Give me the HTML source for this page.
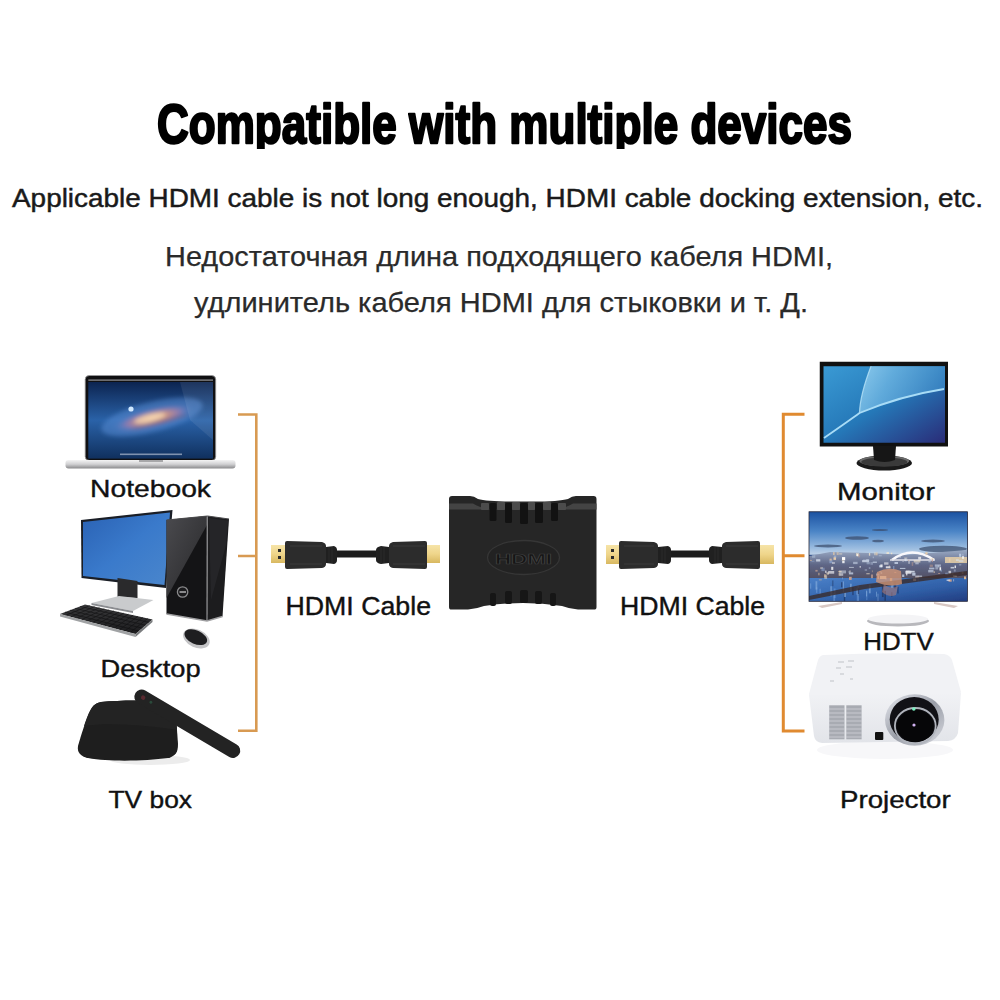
<!DOCTYPE html>
<html><head><meta charset="utf-8">
<style>
html,body{margin:0;padding:0;background:#fff;width:1000px;height:1000px;overflow:hidden;}
svg{display:block;}
text{font-family:"Liberation Sans",sans-serif;}
</style></head>
<body>
<svg width="1000" height="1000" viewBox="0 0 1000 1000">
<defs>
  <filter id="blur1" x="-20%" y="-50%" width="140%" height="200%"><feGaussianBlur stdDeviation="2"/></filter>
  <filter id="blur05" x="-5%" y="-5%" width="110%" height="110%"><feGaussianBlur stdDeviation="0.7"/></filter>
  <radialGradient id="galaxy" cx="0.5" cy="0.5" r="0.5">
    <stop offset="0" stop-color="#f2cfa8"/>
    <stop offset="0.3" stop-color="#d4987c"/>
    <stop offset="0.65" stop-color="#8a7ab0"/>
    <stop offset="1" stop-color="#4a80c8" stop-opacity="0"/>
  </radialGradient>
  <linearGradient id="mbScreen" x1="0" y1="0" x2="0" y2="1">
    <stop offset="0" stop-color="#0c2450"/>
    <stop offset="0.5" stop-color="#2a62a8"/>
    <stop offset="1" stop-color="#10305e"/>
  </linearGradient>
  <linearGradient id="silver" x1="0" y1="0" x2="0" y2="1">
    <stop offset="0" stop-color="#f4f4f4"/>
    <stop offset="0.5" stop-color="#d0d0d2"/>
    <stop offset="1" stop-color="#8a8a8c"/>
  </linearGradient>
  <linearGradient id="dellScreen" x1="0" y1="0" x2="1" y2="1">
    <stop offset="0" stop-color="#2f6fc4"/>
    <stop offset="1" stop-color="#3a78c8"/>
  </linearGradient>
  <linearGradient id="tower" x1="0" y1="0" x2="1" y2="0">
    <stop offset="0" stop-color="#1a1a1a"/>
    <stop offset="0.5" stop-color="#2a2a2c"/>
    <stop offset="1" stop-color="#111"/>
  </linearGradient>
  <linearGradient id="monScreen" x1="0" y1="0" x2="1" y2="1">
    <stop offset="0" stop-color="#3a9ad4"/>
    <stop offset="0.5" stop-color="#2578b8"/>
    <stop offset="1" stop-color="#2a2c78"/>
  </linearGradient>
  <linearGradient id="sky" x1="0" y1="0" x2="0" y2="1">
    <stop offset="0" stop-color="#2a62b0"/>
    <stop offset="0.55" stop-color="#7aa4d4"/>
    <stop offset="0.62" stop-color="#9ab4d0"/>
    <stop offset="0.64" stop-color="#3a3a48"/>
    <stop offset="0.78" stop-color="#6a5a60"/>
    <stop offset="0.82" stop-color="#2a4a80"/>
    <stop offset="1" stop-color="#1e3c78"/>
  </linearGradient>
  <linearGradient id="projTop" x1="0" y1="0" x2="0" y2="1">
    <stop offset="0" stop-color="#f6f7f9"/>
    <stop offset="1" stop-color="#eceef2"/>
  </linearGradient>
  <linearGradient id="projFront" x1="0" y1="0" x2="0" y2="1">
    <stop offset="0" stop-color="#f4f5f8"/>
    <stop offset="1" stop-color="#dfe1e6"/>
  </linearGradient>
  <linearGradient id="gold" x1="0" y1="0" x2="0" y2="1">
    <stop offset="0" stop-color="#f6e4a8"/>
    <stop offset="0.5" stop-color="#efd58a"/>
    <stop offset="1" stop-color="#d8b860"/>
  </linearGradient>
</defs>

<!-- ===== TEXT ===== -->
<clipPath id="titleClip"><rect x="0" y="80" width="1000" height="69"/></clipPath>
<text x="157" y="143" font-size="56" font-weight="bold" fill="#000" stroke="#000" stroke-width="2.4" stroke-linejoin="round" textLength="695" lengthAdjust="spacingAndGlyphs" clip-path="url(#titleClip)">Compatible with multiple devices</text>
<text x="12" y="207" font-size="25" fill="#1a1a1a" stroke="#1a1a1a" stroke-width="0.45" textLength="971" lengthAdjust="spacingAndGlyphs">Applicable HDMI cable is not long enough, HDMI cable docking extension, etc.</text>
<text x="165" y="266" font-size="28" fill="#2a2a2a" stroke="#2a2a2a" stroke-width="0.25" textLength="668" lengthAdjust="spacingAndGlyphs">Недостаточная длина подходящего кабеля HDMI,</text>
<text x="194" y="312" font-size="28" fill="#2a2a2a" stroke="#2a2a2a" stroke-width="0.25" textLength="614" lengthAdjust="spacingAndGlyphs">удлинитель кабеля HDMI для стыковки и т. Д.</text>

<!-- labels -->
<text x="90" y="497" font-size="24.5" fill="#111" stroke="#111" stroke-width="0.4" textLength="121" lengthAdjust="spacingAndGlyphs">Notebook</text>
<text x="100.6" y="677" font-size="24.5" fill="#111" stroke="#111" stroke-width="0.4" textLength="100" lengthAdjust="spacingAndGlyphs">Desktop</text>
<text x="108.5" y="808" font-size="24.5" fill="#111" stroke="#111" stroke-width="0.4" textLength="83.5" lengthAdjust="spacingAndGlyphs">TV box</text>
<text x="285.5" y="615" font-size="25" fill="#111" stroke="#111" stroke-width="0.4" textLength="145.5" lengthAdjust="spacingAndGlyphs">HDMI Cable</text>
<text x="620" y="615" font-size="25" fill="#111" stroke="#111" stroke-width="0.4" textLength="145" lengthAdjust="spacingAndGlyphs">HDMI Cable</text>
<text x="837" y="499.5" font-size="24.5" fill="#111" stroke="#111" stroke-width="0.4" textLength="98" lengthAdjust="spacingAndGlyphs">Monitor</text>
<text x="863.2" y="650" font-size="24.5" fill="#111" stroke="#111" stroke-width="0.4" textLength="70.5" lengthAdjust="spacingAndGlyphs">HDTV</text>
<text x="840" y="807.5" font-size="24.5" fill="#111" stroke="#111" stroke-width="0.4" textLength="110.7" lengthAdjust="spacingAndGlyphs">Projector</text>

<!-- ===== BRACKETS ===== -->
<path d="M238 414.5 H256.3 V730.8 H238 M238 556 H256.3" fill="none" stroke="#d89a52" stroke-width="2.6"/>
<path d="M804.5 414.2 H783.3 V731 H804.5 M804.5 555.7 H783.3" fill="none" stroke="#e08a30" stroke-width="3"/>

<!-- ===== LAPTOP ===== -->
<rect x="85.2" y="375.5" width="130.5" height="85" rx="4" fill="#101012" stroke="#9a9a9c" stroke-width="0.8"/>
<rect x="88.3" y="382" width="124.7" height="76.6" fill="url(#mbScreen)"/>
<g filter="url(#blur1)">
<ellipse cx="152" cy="417" rx="52" ry="15" fill="#5a90d8" opacity="0.5" transform="rotate(-14 152 417)"/>
<ellipse cx="153" cy="418" rx="42" ry="10" fill="url(#galaxy)" transform="rotate(-14 153 418)"/>
<ellipse cx="150" cy="418" rx="16" ry="4" fill="#f8dcb8" opacity="0.7" transform="rotate(-14 150 418)"/>
<ellipse cx="160" cy="422" rx="30" ry="2" fill="#7a5a70" opacity="0.5" transform="rotate(-14 160 422)"/>
</g>
<circle cx="131" cy="409" r="2.6" fill="#cfe8ff"/>
<polygon points="180,382 213,382 213,440 190,420" fill="#ffffff" opacity="0.08"/>
<rect x="120" y="453.5" width="62" height="1.6" fill="#c8d0e0" opacity="0.6"/>
<rect x="88.3" y="379.5" width="124.7" height="1.2" fill="#b4b4b8" opacity="0.8"/>
<rect x="65.5" y="460" width="170" height="8.5" rx="3" fill="url(#silver)"/>
<rect x="139" y="460" width="24" height="2" fill="#a8a8aa"/>

<!-- ===== DESKTOP ===== -->
<polygon points="81,520 172.5,510 166,588 81.5,578" fill="#1a1e26"/>
<linearGradient id="dellScr2" x1="0" y1="0" x2="1" y2="1">
  <stop offset="0" stop-color="#2a62b4"/>
  <stop offset="0.5" stop-color="#3a7acb"/>
  <stop offset="1" stop-color="#4a86cc"/>
</linearGradient>
<polygon points="83,522 170,512.5 164.5,585 83,576" fill="url(#dellScr2)"/>
<polygon points="117.5,578 137.5,581 137.5,598 117.5,597" fill="#2a2a2c"/>
<polygon points="91.5,603 119,596 153.5,600 133,611" fill="#c9cbcd"/>
<polygon points="91.5,603 133,611 133,613 91.5,605" fill="#8a8c90"/>
<linearGradient id="tower2" x1="0" y1="0" x2="1" y2="1">
  <stop offset="0" stop-color="#2e2e30"/>
  <stop offset="0.45" stop-color="#1a1a1c"/>
  <stop offset="1" stop-color="#0e0e10"/>
</linearGradient>
<polygon points="166.5,520 207.5,516 207,621 166.5,614" fill="#141416"/>
<linearGradient id="gloss" x1="0" y1="0" x2="1" y2="1">
  <stop offset="0" stop-color="#4a4a4e"/>
  <stop offset="1" stop-color="#262628"/>
</linearGradient>
<polygon points="166.5,520 207.5,516 207.5,524 166.5,598" fill="url(#gloss)"/>
<polygon points="207.5,516 229,519 222.5,616.5 207,621" fill="#1c1c1e"/>
<polygon points="209,518 228,520.5 226,545 211,600" fill="#2a2a2c" opacity="0.7"/>
<line x1="207.3" y1="516" x2="207" y2="621" stroke="#8a8a8c" stroke-width="1.3"/>
<polyline points="166.5,520 207.5,516 229,519" fill="none" stroke="#4a4a4c" stroke-width="1"/>
<polyline points="166.5,614 207,621 222.5,616.5" fill="none" stroke="#a0a0a2" stroke-width="1.6"/>
<circle cx="182.6" cy="592" r="5.2" fill="#1a1a1c" stroke="#8a8a8c" stroke-width="1.3"/>
<rect x="179.5" y="591" width="6.5" height="2" fill="#8a8a8c"/>
<ellipse cx="196.4" cy="638.5" rx="14" ry="9" transform="rotate(24 196.4 638.5)" fill="#c4c4c6"/>
<ellipse cx="195.8" cy="637.2" rx="12" ry="6.8" transform="rotate(24 195.8 637.2)" fill="#1e1e20"/>
<linearGradient id="kb" x1="0" y1="0" x2="0" y2="1">
  <stop offset="0" stop-color="#3a3a3c"/>
  <stop offset="1" stop-color="#1c1c1e"/>
</linearGradient>
<polygon points="60,614 85,604.5 152.5,619.5 135.5,634" fill="url(#kb)"/>
<path d="M65.0 612.1 L138.9 631.1 M70.0 610.2 L142.3 628.2 M75.0 608.3 L145.7 625.3 M80.0 606.4 L149.1 622.4 M65.4 615.4 L89.8 605.6 M70.8 616.9 L94.6 606.6 M76.2 618.3 L99.5 607.7 M81.6 619.7 L104.3 608.8 M87.0 621.1 L109.1 609.9 M92.4 622.6 L113.9 610.9 M97.8 624.0 L118.8 612.0 M103.1 625.4 L123.6 613.1 M108.5 626.9 L128.4 614.1 M113.9 628.3 L133.2 615.2 M119.3 629.7 L138.0 616.3 M124.7 631.1 L142.9 617.4 M130.1 632.6 L147.7 618.4" stroke="#0e0e10" stroke-width="0.7" opacity="0.8"/>
<polygon points="60,614 135.5,634 135.5,637 60,616.5" fill="#a0a2a4"/>
<polygon points="135.5,634 152.5,619.5 152.5,622 135.5,637" fill="#7a7c7e"/>


<!-- ===== TV BOX ===== -->
<ellipse cx="150" cy="760" rx="40" ry="5" fill="#ececec"/>
<path d="M101 702 C120 700 145 700 160 701.5 L176 716 L178 744 C178 752 176 756 168 758 C145 761 110 762 88 758 C80 756 77 752 78 746 C81 735 86 720 90 711 C93 705 96 703 101 702 Z" fill="#1e1e1e"/>
<path d="M101 702 C120 700 145 700 160 701.5 L176 716 L177 730 C150 726 110 722 84 726 C86 720 88 714 90 711 C93 705 96 703 101 702 Z" fill="#232323"/>
<g transform="rotate(30.5 187.3 723.8)">
  <rect x="127" y="716.5" width="120.5" height="14.5" rx="7.2" fill="#232323"/>
  <circle cx="136" cy="723.7" r="2.2" fill="#5a2a30"/>
  <circle cx="145" cy="723.7" r="1.5" fill="#2a4a3a"/>
</g>
<!-- ===== HDMI CABLES ===== -->
<g id="cableL">
  <rect x="271" y="545" width="15" height="18" fill="url(#gold)"/>
  <rect x="278" y="549" width="3" height="3" fill="#2a2a2a"/>
  <rect x="278" y="556" width="3" height="3" fill="#2a2a2a"/>
  <path d="M285 543 Q285 541 287 541 L322 542 Q326 543 326 546 L326 564 Q326 567 322 568 L287 569 Q285 569 285 567 Z" fill="#2c2c2c"/>
  <path d="M290 546 H322 M290 564 H322" stroke="#3a3a3a" stroke-width="1"/>
  <path d="M326 547 L334 546 Q337 547 337 550 L337 560 Q337 563 334 564 L326 563 Z" fill="#202020"/>
  <path d="M329 547 V563 M332 547 V563" stroke="#2e2e2e" stroke-width="0.8"/>
  <rect x="337" y="550.5" width="39" height="7" fill="#1c1c1c"/>
  <path d="M389 547 L381 546 Q376 547 376 550 L376 560 Q376 563 381 564 L389 563 Z" fill="#202020"/>
  <path d="M384 547 V563 M381 547 V563" stroke="#2e2e2e" stroke-width="0.8"/>
  <path d="M389 546 Q389 543 393 542 L425 541 Q427 541 427 543 L427 567 Q427 569 425 569 L393 568 Q389 567 389 564 Z" fill="#2c2c2c"/>
  <path d="M393 546 H425 M393 564 H425" stroke="#3a3a3a" stroke-width="1"/>
  <rect x="427" y="545" width="13" height="18" fill="url(#gold)"/>
</g>
<g id="cableR">
  <rect x="606" y="545" width="14" height="19" fill="url(#gold)"/>
  <rect x="611" y="549" width="3" height="3" fill="#2a2a2a"/>
  <rect x="611" y="556" width="3" height="3" fill="#2a2a2a"/>
  <path d="M619 543 Q619 541 621 541 L654 542 Q658 543 658 546 L658 564 Q658 567 654 568 L621 569 Q619 569 619 567 Z" fill="#2c2c2c"/>
  <path d="M624 546 H654 M624 564 H654" stroke="#3a3a3a" stroke-width="1"/>
  <path d="M658 547 L668 546 Q671 547 671 550 L671 560 Q671 563 668 564 L658 563 Z" fill="#202020"/>
  <path d="M662 547 V563 M665 547 V563" stroke="#2e2e2e" stroke-width="0.8"/>
  <rect x="671" y="550.5" width="38" height="7" fill="#1c1c1c"/>
  <path d="M722 547 L712 546 Q709 547 709 550 L709 560 Q709 563 712 564 L722 563 Z" fill="#202020"/>
  <path d="M715 547 V563 M718 547 V563" stroke="#2e2e2e" stroke-width="0.8"/>
  <path d="M722 546 Q722 543 726 542 L758 541 Q760 541 760 543 L760 567 Q760 569 758 569 L726 568 Q722 567 722 564 Z" fill="#2c2c2c"/>
  <path d="M726 546 H758 M726 564 H758" stroke="#3a3a3a" stroke-width="1"/>
  <rect x="760" y="545" width="14" height="19" fill="url(#gold)"/>
</g>

<!-- ===== ADAPTER ===== -->
<path d="M449 499 Q449 496 452 496 L470 496 Q474 496 478 499 Q488 502 523 501.5 Q558 502 568 499 Q572 496 576 496 L593.5 496 Q596.5 496 596.5 499 L596.5 607 Q596.5 609.6 594 609.6 L578 609.6 Q570 609 562 606 Q523 600 484 606 Q476 609 468 609.6 L451.5 609.6 Q449 609.6 449 607 Z" fill="#262626"/>
<path d="M449 503.5 L473 503.5 Q479 507 488 509 L558 509 Q567 507 573 503.5 L596.5 503.5 L596.5 509.5 L449 509.5 Z" fill="#444"/>
<g fill="#4c4c4c">
  <rect x="481" y="503" width="8" height="7" rx="1"/>
  <rect x="497" y="502" width="8" height="8" rx="1"/>
  <rect x="512" y="502" width="8" height="8" rx="1"/>
  <rect x="528" y="502" width="7" height="8" rx="1"/>
  <rect x="543" y="502" width="8" height="8" rx="1"/>
  <rect x="558" y="503" width="8" height="7" rx="1"/>
</g>
<g fill="#121212">
  <rect x="489.5" y="503" width="7" height="18" rx="1.5"/>
  <rect x="505" y="503" width="7" height="20" rx="1.5"/>
  <rect x="520" y="503" width="8" height="21" rx="1.5"/>
  <rect x="535" y="503" width="8" height="20" rx="1.5"/>
  <rect x="551" y="503" width="7" height="18" rx="1.5"/>
</g>
<g fill="#161616">
  <rect x="490" y="593" width="6" height="13" rx="2"/>
  <rect x="505" y="591" width="7" height="13" rx="2"/>
  <rect x="520" y="590" width="8" height="13" rx="2"/>
  <rect x="535" y="591" width="7" height="13" rx="2"/>
  <rect x="550" y="593" width="6" height="13" rx="2"/>
</g>
<ellipse cx="523.5" cy="557.5" rx="36" ry="17" fill="#222" stroke="#363636" stroke-width="1.3"/>
<text x="495" y="563.5" font-size="15" font-weight="bold" fill="#141414" stroke="#3e3e3e" stroke-width="0.7" textLength="57" lengthAdjust="spacingAndGlyphs">HDMI</text>

<!-- ===== MONITOR ===== -->
<rect x="819.75" y="361.75" width="128.25" height="84.75" fill="#111"/>
<rect x="823.5" y="366.25" width="121.5" height="76.5" fill="url(#monScreen)"/>
<linearGradient id="monLight" x1="0" y1="0" x2="1" y2="0.3">
  <stop offset="0" stop-color="#9ad4f2"/>
  <stop offset="0.4" stop-color="#6ab2e0"/>
  <stop offset="1" stop-color="#3a86c4"/>
</linearGradient>
<path d="M871 366.25 Q860 395 859.5 413 Q900 396 945 389.5 L945 366.25 Z" fill="url(#monLight)" opacity="0.85"/>
<path d="M871 366.25 Q860 395 859.5 413" fill="none" stroke="#b8e4f8" stroke-width="1.2" opacity="0.8"/>
<path d="M824 438 Q850 420 859.5 413 Q900 396 944 389" fill="none" stroke="#a8dcf6" stroke-width="1.8"/>
<ellipse cx="884.25" cy="463" rx="27.75" ry="7.5" fill="#1a1a1a"/>
<ellipse cx="884.25" cy="461" rx="25" ry="5.2" fill="#6a6a6a"/>
<ellipse cx="884.25" cy="462" rx="23" ry="4.5" fill="#3a3a3a"/>
<path d="M873 446 L896 446 L895 460 Q884.5 464 874 460 Z" fill="#161616"/>

<!-- ===== HDTV ===== -->
<linearGradient id="tvSky" x1="0" y1="0" x2="0" y2="1">
  <stop offset="0" stop-color="#1b52a2"/>
  <stop offset="0.45" stop-color="#4a84c6"/>
  <stop offset="0.85" stop-color="#9cbde0"/>
  <stop offset="1" stop-color="#c0d2e6"/>
</linearGradient>
<linearGradient id="tvWater" x1="0" y1="0" x2="1" y2="1">
  <stop offset="0" stop-color="#4a80c8"/>
  <stop offset="0.6" stop-color="#3060a8"/>
  <stop offset="1" stop-color="#223c80"/>
</linearGradient>
<linearGradient id="tvCity" x1="0" y1="0" x2="0" y2="1">
  <stop offset="0" stop-color="#9aaac4"/>
  <stop offset="0.45" stop-color="#5e6686"/>
  <stop offset="1" stop-color="#4e4858"/>
</linearGradient>
<rect x="809" y="511.8" width="158.4" height="89.5" fill="#1a3e80"/>
<rect x="809" y="511.8" width="158.4" height="43" fill="url(#tvSky)"/>
<clipPath id="tvClip"><rect x="809" y="511.8" width="158.4" height="89.5"/></clipPath>
<g clip-path="url(#tvClip)"><g filter="url(#blur05)">
<g fill="#3a4a6a" opacity="0.7">
  <ellipse cx="828" cy="546" rx="14" ry="1.5"/>
  <ellipse cx="857" cy="538" rx="12" ry="1.8"/>
  <ellipse cx="878" cy="541" rx="6" ry="1.3"/>
  <ellipse cx="943" cy="549" rx="24" ry="3.2"/>
  <ellipse cx="933" cy="541" rx="12" ry="1.5"/>
  <ellipse cx="880" cy="530" rx="8" ry="1"/>
</g>
<path d="M809 556 L830 552 L870 553 L905 555 L967 550 L967 578 L809 583 Z" fill="url(#tvCity)"/>
<rect x="809" y="578" width="158.4" height="23.3" fill="url(#tvWater)"/>
<rect x="868.9" y="584.7" width="1.8" height="8.6" fill="#8ab0e0" opacity="0.6"/>
<rect x="815.9" y="587.2" width="1.5" height="5.7" fill="#6a9ad8" opacity="0.6"/>
<rect x="877.6" y="593.7" width="0.8" height="8.9" fill="#8ab0e0" opacity="0.6"/>
<rect x="830.3" y="586.2" width="1.6" height="10.1" fill="#8ab0e0" opacity="0.6"/>
<rect x="842.8" y="581.4" width="1.2" height="11.2" fill="#8ab0e0" opacity="0.6"/>
<rect x="857.6" y="585.8" width="1.6" height="10.8" fill="#6a9ad8" opacity="0.6"/>
<rect x="866.4" y="591.3" width="0.9" height="8.8" fill="#6a9ad8" opacity="0.6"/>
<rect x="843.8" y="593.1" width="1.4" height="11.8" fill="#1a2a50" opacity="0.6"/>
<rect x="857.8" y="588.4" width="1.4" height="8.0" fill="#1a2a50" opacity="0.6"/>
<rect x="856.4" y="588.4" width="1.3" height="6.3" fill="#8ab0e0" opacity="0.6"/>
<rect x="833.3" y="593.0" width="1.8" height="10.0" fill="#6a9ad8" opacity="0.6"/>
<rect x="810.3" y="583.4" width="0.9" height="5.3" fill="#8ab0e0" opacity="0.6"/>
<rect x="844.1" y="592.6" width="1.9" height="4.4" fill="#8ab0e0" opacity="0.6"/>
<rect x="894.0" y="581.0" width="2.2" height="7.4" fill="#1a2a50" opacity="0.6"/>
<rect x="831.6" y="590.6" width="0.9" height="4.8" fill="#8ab0e0" opacity="0.6"/>
<rect x="890.9" y="582.0" width="2.2" height="6.0" fill="#8ab0e0" opacity="0.6"/>
<rect x="819.4" y="588.7" width="1.5" height="5.6" fill="#6a9ad8" opacity="0.6"/>
<rect x="841.1" y="582.2" width="1.3" height="5.1" fill="#1a2a50" opacity="0.6"/>
<rect x="850.0" y="583.7" width="1.7" height="7.4" fill="#8ab0e0" opacity="0.6"/>
<rect x="856.8" y="594.0" width="2.2" height="9.9" fill="#6a9ad8" opacity="0.6"/>
<rect x="852.3" y="587.0" width="1.3" height="8.1" fill="#1a2a50" opacity="0.6"/>
<rect x="833.7" y="588.5" width="1.9" height="9.6" fill="#6a9ad8" opacity="0.6"/>
<rect x="866.0" y="590.5" width="1.1" height="6.0" fill="#8ab0e0" opacity="0.6"/>
<rect x="891.4" y="592.3" width="0.9" height="4.5" fill="#1a2a50" opacity="0.6"/>
<rect x="832.4" y="580.4" width="0.9" height="5.8" fill="#1a2a50" opacity="0.6"/>
<rect x="815.5" y="581.2" width="1.8" height="8.4" fill="#8ab0e0" opacity="0.6"/>
<rect x="897.3" y="586.8" width="1.3" height="6.7" fill="#1a2a50" opacity="0.6"/>
<rect x="876.0" y="591.7" width="0.9" height="5.0" fill="#8ab0e0" opacity="0.6"/>
<rect x="884.4" y="590.8" width="1.5" height="10.0" fill="#1a2a50" opacity="0.6"/>
<rect x="881.9" y="585.2" width="1.8" height="11.9" fill="#1a2a50" opacity="0.6"/>
<path d="M892 560 Q912 545 934 560" fill="none" stroke="#f8f8fc" stroke-width="2.6"/>
<path d="M890 560 L935 560" stroke="#e0e0e8" stroke-width="1.5"/>
<rect x="945" y="557" width="22" height="6" fill="#e8d0a8" opacity="0.85"/>
<rect x="879.1" y="565.2" width="3.1" height="2.2" fill="#b8c8e0" opacity="0.91"/>
<rect x="838.4" y="573.1" width="2.0" height="2.6" fill="#e8cca8" opacity="0.46"/>
<rect x="856.0" y="553.2" width="2.8" height="2.9" fill="#f4e6cc" opacity="0.76"/>
<rect x="870.4" y="562.0" width="2.6" height="2.8" fill="#b8c8e0" opacity="0.41"/>
<rect x="890.9" y="552.7" width="1.3" height="1.5" fill="#f4e6cc" opacity="0.87"/>
<rect x="859.6" y="566.1" width="1.3" height="1.5" fill="#ffffff" opacity="0.70"/>
<rect x="911.7" y="562.1" width="1.5" height="3.8" fill="#c8a090" opacity="0.45"/>
<rect x="848.4" y="571.5" width="2.1" height="0.9" fill="#b8c8e0" opacity="0.86"/>
<rect x="871.1" y="574.5" width="1.8" height="3.7" fill="#c8a090" opacity="0.81"/>
<rect x="842.1" y="577.4" width="0.9" height="1.9" fill="#8aa0c8" opacity="0.64"/>
<rect x="820.3" y="567.3" width="2.7" height="1.6" fill="#f4e6cc" opacity="0.59"/>
<rect x="811.3" y="560.8" width="3.1" height="1.2" fill="#8aa0c8" opacity="0.46"/>
<rect x="818.3" y="572.8" width="1.2" height="2.5" fill="#d8b898" opacity="0.71"/>
<rect x="961.7" y="571.9" width="1.8" height="2.0" fill="#d8b898" opacity="0.65"/>
<rect x="842.0" y="557.1" width="3.2" height="3.2" fill="#ffffff" opacity="1.00"/>
<rect x="812.0" y="555.2" width="3.3" height="2.6" fill="#b8c8e0" opacity="0.46"/>
<rect x="962.3" y="555.8" width="1.4" height="3.1" fill="#ffffff" opacity="0.90"/>
<rect x="868.9" y="553.0" width="1.3" height="2.7" fill="#f4e6cc" opacity="0.76"/>
<rect x="866.6" y="562.0" width="3.2" height="2.3" fill="#b8c8e0" opacity="0.48"/>
<rect x="868.8" y="567.3" width="1.6" height="1.5" fill="#b8c8e0" opacity="0.55"/>
<rect x="838.4" y="570.9" width="3.2" height="1.4" fill="#d8b898" opacity="0.93"/>
<rect x="902.5" y="561.1" width="1.1" height="0.9" fill="#ffffff" opacity="0.54"/>
<rect x="918.2" y="556.8" width="2.9" height="2.6" fill="#ffffff" opacity="0.71"/>
<rect x="953.0" y="579.2" width="1.1" height="2.2" fill="#8aa0c8" opacity="0.91"/>
<rect x="904.2" y="557.4" width="3.1" height="1.4" fill="#f4e6cc" opacity="0.44"/>
<rect x="872.8" y="556.6" width="0.9" height="1.6" fill="#b8c8e0" opacity="0.74"/>
<rect x="829.4" y="559.5" width="3.0" height="3.7" fill="#8aa0c8" opacity="0.84"/>
<rect x="889.9" y="578.1" width="2.3" height="3.6" fill="#d8b898" opacity="0.95"/>
<rect x="917.7" y="578.7" width="0.9" height="2.7" fill="#d8b898" opacity="0.44"/>
<rect x="857.2" y="554.1" width="1.0" height="2.2" fill="#ffffff" opacity="0.84"/>
<rect x="948.5" y="570.8" width="2.6" height="3.2" fill="#ffffff" opacity="0.61"/>
<rect x="915.2" y="576.4" width="3.0" height="2.1" fill="#c8a090" opacity="0.42"/>
<rect x="886.5" y="552.1" width="2.5" height="1.9" fill="#f4e6cc" opacity="0.77"/>
<rect x="821.4" y="567.7" width="3.3" height="3.4" fill="#8aa0c8" opacity="0.60"/>
<rect x="953.8" y="569.4" width="1.9" height="2.2" fill="#b8c8e0" opacity="0.45"/>
<rect x="925.3" y="552.3" width="2.3" height="2.2" fill="#e8cca8" opacity="0.97"/>
<rect x="826.5" y="572.3" width="2.5" height="2.3" fill="#f4e6cc" opacity="0.62"/>
<rect x="831.2" y="566.8" width="2.1" height="3.1" fill="#ffffff" opacity="0.80"/>
<rect x="877.5" y="576.1" width="1.6" height="2.8" fill="#e8cca8" opacity="0.78"/>
<rect x="933.6" y="571.4" width="1.3" height="1.4" fill="#e8cca8" opacity="0.75"/>
<rect x="858.1" y="554.1" width="2.0" height="3.3" fill="#c8a090" opacity="0.42"/>
<rect x="818.9" y="579.3" width="2.9" height="1.1" fill="#d8b898" opacity="0.57"/>
<rect x="842.2" y="560.9" width="2.4" height="2.3" fill="#ffffff" opacity="0.83"/>
<rect x="939.5" y="567.2" width="1.6" height="3.3" fill="#ffffff" opacity="0.92"/>
<rect x="815.4" y="569.9" width="2.2" height="1.7" fill="#c8a090" opacity="0.74"/>
<rect x="908.4" y="560.7" width="1.3" height="3.1" fill="#ffffff" opacity="0.54"/>
<rect x="830.8" y="552.5" width="2.4" height="2.1" fill="#8aa0c8" opacity="0.72"/>
<rect x="908.2" y="559.7" width="1.0" height="1.4" fill="#c8a090" opacity="0.69"/>
<rect x="836.7" y="552.1" width="2.0" height="2.9" fill="#e8cca8" opacity="0.54"/>
<rect x="929.7" y="564.6" width="3.2" height="2.3" fill="#c8a090" opacity="0.50"/>
<rect x="940.6" y="569.6" width="1.4" height="2.0" fill="#8aa0c8" opacity="0.63"/>
<rect x="878.8" y="555.4" width="3.0" height="0.8" fill="#b8c8e0" opacity="0.74"/>
<rect x="945.3" y="572.8" width="3.2" height="2.2" fill="#8aa0c8" opacity="0.99"/>
<rect x="824.3" y="575.2" width="2.8" height="3.6" fill="#f4e6cc" opacity="0.53"/>
<rect x="948.5" y="579.3" width="3.2" height="2.4" fill="#c8a090" opacity="0.96"/>
<rect x="849.6" y="570.2" width="0.8" height="2.3" fill="#f4e6cc" opacity="0.66"/>
<rect x="894.3" y="571.9" width="2.0" height="0.9" fill="#c8a090" opacity="0.92"/>
<rect x="875.5" y="552.4" width="2.1" height="2.9" fill="#e8cca8" opacity="0.68"/>
<rect x="964.0" y="576.4" width="2.1" height="2.8" fill="#d8b898" opacity="0.97"/>
<rect x="885.4" y="578.2" width="1.0" height="1.5" fill="#b8c8e0" opacity="0.74"/>
<rect x="937.8" y="565.2" width="1.2" height="2.3" fill="#b8c8e0" opacity="0.55"/>
<rect x="913.1" y="578.4" width="3.0" height="2.6" fill="#ffffff" opacity="0.91"/>
<rect x="959.1" y="564.1" width="2.2" height="1.4" fill="#b8c8e0" opacity="0.47"/>
<rect x="809.8" y="559.9" width="2.1" height="0.9" fill="#d8b898" opacity="0.73"/>
<rect x="962.4" y="553.8" width="1.0" height="1.3" fill="#b8c8e0" opacity="0.68"/>
<rect x="951.7" y="573.0" width="1.8" height="1.5" fill="#d8b898" opacity="0.48"/>
<rect x="876.2" y="573.5" width="3.1" height="2.2" fill="#ffffff" opacity="0.47"/>
<rect x="874.0" y="552.3" width="1.5" height="2.9" fill="#f4e6cc" opacity="0.42"/>
<rect x="833.1" y="552.1" width="1.5" height="3.0" fill="#e8cca8" opacity="0.77"/>
<rect x="825.3" y="570.6" width="1.1" height="2.3" fill="#ffffff" opacity="0.83"/>
<rect x="917.7" y="575.7" width="0.9" height="2.7" fill="#c8a090" opacity="0.72"/>
<rect x="833.8" y="555.6" width="2.4" height="2.7" fill="#b8c8e0" opacity="0.53"/>
<rect x="893.2" y="566.0" width="1.1" height="3.5" fill="#8aa0c8" opacity="0.89"/>
<rect x="948.9" y="558.3" width="1.6" height="3.6" fill="#e8cca8" opacity="0.87"/>
<rect x="839.2" y="553.3" width="3.0" height="1.2" fill="#f4e6cc" opacity="0.56"/>
<rect x="824.0" y="574.1" width="1.9" height="3.2" fill="#e8cca8" opacity="0.52"/>
<rect x="906.3" y="572.9" width="1.0" height="2.5" fill="#ffffff" opacity="0.95"/>
<rect x="959.1" y="553.7" width="2.1" height="3.1" fill="#b8c8e0" opacity="1.00"/>
<rect x="938.1" y="573.0" width="2.0" height="0.9" fill="#c8a090" opacity="0.73"/>
<rect x="888.8" y="565.4" width="1.2" height="1.4" fill="#e8cca8" opacity="0.50"/>
<rect x="833.5" y="557.4" width="2.5" height="2.5" fill="#e8cca8" opacity="0.97"/>
<rect x="880.6" y="571.8" width="1.6" height="2.2" fill="#b8c8e0" opacity="0.61"/>
<rect x="841.6" y="559.8" width="2.4" height="0.9" fill="#e8cca8" opacity="0.51"/>
<rect x="879.4" y="570.9" width="1.8" height="1.4" fill="#e8cca8" opacity="0.46"/>
<rect x="931.8" y="558.5" width="1.0" height="3.3" fill="#c8a090" opacity="0.95"/>
<rect x="954.6" y="565.5" width="1.3" height="2.6" fill="#ffffff" opacity="0.88"/>
<rect x="849.0" y="576.8" width="2.7" height="3.1" fill="#c8a090" opacity="0.96"/>
<rect x="829.6" y="558.6" width="2.1" height="1.9" fill="#d8b898" opacity="0.86"/>
<rect x="871.9" y="570.4" width="1.0" height="1.8" fill="#d8b898" opacity="0.46"/>
<rect x="946.6" y="579.7" width="3.1" height="0.9" fill="#ffffff" opacity="0.97"/>
<rect x="905.4" y="570.8" width="6.0" height="2.9" fill="#f0f0f4" opacity="0.84"/>
<rect x="928.4" y="561.0" width="2.3" height="1.3" fill="#c0cce0" opacity="0.69"/>
<rect x="849.0" y="566.9" width="4.9" height="1.0" fill="#d8e0ec" opacity="0.66"/>
<rect x="839.3" y="573.3" width="3.9" height="2.5" fill="#f0f0f4" opacity="0.56"/>
<rect x="904.6" y="558.5" width="2.0" height="2.7" fill="#d8e0ec" opacity="0.81"/>
<rect x="956.0" y="559.3" width="2.8" height="1.6" fill="#d8e0ec" opacity="0.72"/>
<rect x="913.7" y="560.1" width="6.7" height="2.4" fill="#f4e8d0" opacity="0.62"/>
<rect x="866.2" y="559.3" width="2.7" height="1.1" fill="#c0cce0" opacity="0.83"/>
<rect x="899.9" y="567.9" width="5.5" height="1.1" fill="#c0cce0" opacity="0.83"/>
<rect x="884.1" y="562.3" width="4.4" height="2.4" fill="#f0f0f4" opacity="0.60"/>
<rect x="952.9" y="575.0" width="3.8" height="1.8" fill="#f4e8d0" opacity="0.65"/>
<rect x="898.8" y="556.2" width="2.2" height="1.4" fill="#d8e0ec" opacity="0.55"/>
<rect x="848.9" y="572.4" width="4.3" height="2.0" fill="#c0cce0" opacity="0.81"/>
<rect x="828.2" y="571.0" width="6.0" height="2.7" fill="#f0f0f4" opacity="0.67"/>
<rect x="958.8" y="560.2" width="4.6" height="1.7" fill="#d8e0ec" opacity="0.64"/>
<rect x="950.6" y="566.9" width="3.6" height="1.6" fill="#d8e0ec" opacity="0.82"/>
<rect x="906.0" y="570.4" width="3.5" height="2.0" fill="#f0f0f4" opacity="0.53"/>
<rect x="902.1" y="574.5" width="2.2" height="2.5" fill="#c0cce0" opacity="0.83"/>
<rect x="880.3" y="564.4" width="2.3" height="2.8" fill="#f0f0f4" opacity="0.82"/>
<rect x="862.1" y="560.1" width="6.9" height="2.1" fill="#d8e0ec" opacity="0.75"/>
<rect x="930.2" y="558.1" width="4.2" height="1.3" fill="#f4e8d0" opacity="0.62"/>
<rect x="880.0" y="576.0" width="6.3" height="3.0" fill="#f4e8d0" opacity="0.88"/>
<rect x="915.3" y="562.4" width="3.4" height="1.9" fill="#d8e0ec" opacity="0.55"/>
<rect x="935.3" y="566.6" width="2.9" height="2.9" fill="#c0cce0" opacity="0.57"/>
<rect x="885.8" y="566.3" width="4.7" height="2.0" fill="#f0f0f4" opacity="0.81"/>
<rect x="928.2" y="569.9" width="5.3" height="2.5" fill="#c0cce0" opacity="0.72"/>
<rect x="912.2" y="572.7" width="3.3" height="3.0" fill="#c0cce0" opacity="0.88"/>
<rect x="863.0" y="559.6" width="6.3" height="1.9" fill="#c0cce0" opacity="0.63"/>
<rect x="853.1" y="561.8" width="4.5" height="2.3" fill="#c0cce0" opacity="0.64"/>
<rect x="908.6" y="570.8" width="6.1" height="1.7" fill="#d8e0ec" opacity="0.85"/>
<rect x="915.3" y="575.5" width="6.8" height="2.0" fill="#d8e0ec" opacity="0.58"/>
<rect x="866.3" y="573.1" width="3.4" height="1.2" fill="#f4e8d0" opacity="0.57"/>
<rect x="929.1" y="567.6" width="5.3" height="1.8" fill="#c0cce0" opacity="0.79"/>
<rect x="816.1" y="559.2" width="4.2" height="2.3" fill="#d8e0ec" opacity="0.80"/>
<rect x="839.1" y="570.4" width="6.9" height="3.0" fill="#d8e0ec" opacity="0.52"/>
<rect x="832.0" y="562.3" width="2.9" height="1.4" fill="#f0f0f4" opacity="0.67"/>
<rect x="864.7" y="569.3" width="2.4" height="1.4" fill="#c0cce0" opacity="0.50"/>
<rect x="872.8" y="561.6" width="4.1" height="1.2" fill="#c0cce0" opacity="0.89"/>
<rect x="894.5" y="562.0" width="3.5" height="2.0" fill="#c0cce0" opacity="0.88"/>
<rect x="934.8" y="564.4" width="6.1" height="2.3" fill="#c0cce0" opacity="0.69"/>
<path d="M809 596 L860 585 L967 571 L967 575 L865 589 L809 600 Z" fill="#3a2a2a" opacity="0.8"/>
<path d="M877 572 Q889 566 901 571 L902 584 Q890 588 876 582 Z" fill="#d89a78" opacity="0.75"/>
<path d="M884 584 Q890 590 898 586 L896 595 Q889 598 882 592 Z" fill="#c08070" opacity="0.5"/>
</g></g>
<rect x="809" y="511.8" width="158.4" height="89.5" fill="none" stroke="#2a2a3a" stroke-width="0.8"/>
<path d="M818 606 L842 602 L842 604 L822 608 Z" fill="#d8c8c4"/>
<path d="M958 606 L934 602 L934 604 L954 608 Z" fill="#d8c8c4"/>
<ellipse cx="898" cy="621" rx="31" ry="5.5" fill="#b8b8bc"/>
<ellipse cx="898" cy="619" rx="30" ry="4.5" fill="#f4f4f6"/>
<!-- ===== PROJECTOR ===== -->
<linearGradient id="lensRing" x1="0" y1="0" x2="1" y2="1">
  <stop offset="0" stop-color="#e8eaf0"/>
  <stop offset="0.5" stop-color="#9a9ea8"/>
  <stop offset="1" stop-color="#d8dae0"/>
</linearGradient>
<ellipse cx="885" cy="750" rx="68" ry="9" fill="#f7f7f9"/>
<path d="M824 655 Q884 652 944 654 Q950 655 952 660 L961 692 L959 696 L810 698 L809 694 L818 660 Q820 655 824 655 Z" fill="#f1f2f5"/>
<linearGradient id="pf2" x1="0" y1="0" x2="0" y2="1"><stop offset="0" stop-color="#f1f2f5"/><stop offset="1" stop-color="#e2e4e9"/></linearGradient>
<path d="M809 695 L961 693 L958 733 Q956 740 948 741 L822 743 Q815 742 814 736 Z" fill="url(#pf2)"/>
<g fill="#a8abb2">
  <rect x="829.2" y="705.3" width="15.3" height="34"/>
  <rect x="846.3" y="705.3" width="15.3" height="34"/>
</g>
<g stroke="#d0d2d8" stroke-width="0.8">
  <path d="M829 709 H845 M829 713 H845 M829 717 H845 M829 721 H845 M829 725 H845 M829 729 H845 M829 733 H845 M829 737 H845"/>
  <path d="M846 709 H862 M846 713 H862 M846 717 H862 M846 721 H862 M846 725 H862 M846 729 H862 M846 733 H862 M846 737 H862"/>
</g>
<g fill="#d8dade">
  <rect x="838" y="661" width="6" height="2"/><rect x="848" y="660" width="6" height="2"/>
  <rect x="836" y="667" width="5" height="2"/><rect x="846" y="666" width="6" height="2"/>
  <rect x="840" y="673" width="4" height="2"/><rect x="830" y="680" width="4" height="2"/><rect x="850" y="678" width="3" height="2"/>
</g>
<rect x="875" y="732" width="8.3" height="8" rx="1" fill="#111"/>
<ellipse cx="914.7" cy="720" rx="29.7" ry="25.8" fill="url(#lensRing)"/>
<ellipse cx="914.2" cy="719.5" rx="24.5" ry="22.5" fill="#111116"/>
<ellipse cx="915.3" cy="726" rx="20.4" ry="18" fill="none" stroke="#b0b4bc" stroke-width="1.8"/>
<ellipse cx="915.3" cy="726" rx="18.5" ry="16.2" fill="#060608"/>
<circle cx="913.8" cy="709" r="1.8" fill="#7af0c0"/>
<circle cx="914" cy="725" r="1.6" fill="#d0b0f0"/>
</svg>
</body></html>
